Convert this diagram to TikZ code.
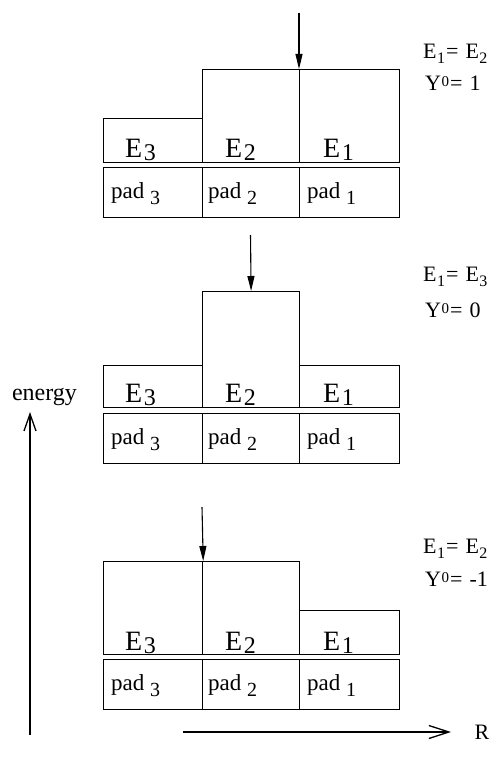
\documentclass[tikz,border=0pt]{standalone}
\usepackage{fontspec}
\setmainfont{Liberation Serif}
\usetikzlibrary{arrows.meta}
\newcommand\Esub[1]{E\kern1.5pt{\fontsize{24}{24}\selectfont\raisebox{-3pt}{#1}}}
\newcommand\padsub[1]{pad {\fontsize{20}{20}\selectfont\raisebox{-6pt}{#1}}}
\newcommand\rsub[1]{\kern0.5pt{\fontsize{16}{16}\selectfont\raisebox{-5pt}{#1}}}
\newcommand\rsup[1]{\kern0.5pt{\fontsize{15}{15}\selectfont\raisebox{4pt}{#1}}}
\newcommand\req{\kern1pt=\kern1.5pt}
\begin{document}
\begin{tikzpicture}[x=1pt,y=-1pt,
  box/.style={draw, line width=1.2pt, inner sep=0pt, anchor=north west},
  elab/.style={font=\fontsize{28}{28}\selectfont, inner sep=0pt, anchor=base west},
  plab/.style={font=\fontsize{23}{23}\selectfont, inner sep=0pt, anchor=base west},
  rlab/.style={font=\fontsize{22}{22}\selectfont, inner sep=0pt, anchor=base west},
  alab/.style={font=\fontsize{24}{24}\selectfont, inner sep=0pt, anchor=base},
  darr/.style={-{Triangle[length=15pt,width=7pt]}, line width=1.1pt},
  eaxis/.style={-{Straight Barb[length=17pt,width=12pt]}, line width=1.3pt},
  raxis/.style={-{Straight Barb[length=20pt,width=13pt]}, line width=1.3pt}]
\useasboundingbox (0,0) rectangle (497,767);

% ---------- top panel ----------
\node[box, minimum width=99pt, minimum height=44pt] (t3) at (103,118) {};
\node[box, minimum width=97pt, minimum height=93pt] (t2) at (202,69) {};
\node[box, minimum width=100pt, minimum height=93pt] (t1) at (299,69) {};
\node[box, minimum width=99pt, minimum height=50pt] (tp3) at (103,167) {};
\node[box, minimum width=97pt, minimum height=50pt] (tp2) at (202,167) {};
\node[box, minimum width=100pt, minimum height=50pt] (tp1) at (299,167) {};
\node[elab] (t3l) at ([shift={(22pt,6pt)}]t3.south west) {\Esub{3}};
\node[elab] (t2l) at ([shift={(23pt,6pt)}]t2.south west) {\Esub{2}};
\node[elab] (t1l) at ([shift={(24pt,6pt)}]t1.south west) {\Esub{1}};
\node[plab] (tp3l) at ([shift={(8pt,20pt)}]tp3.south west) {\padsub{3}};
\node[plab] (tp2l) at ([shift={(6pt,20pt)}]tp2.south west) {\padsub{2}};
\node[plab] (tp1l) at ([shift={(8pt,20pt)}]tp1.south west) {\padsub{1}};
\coordinate (ta) at (299,13);
\draw[darr] (ta) -- (t1.north west);
\node[rlab] (tr1) at (423,59) {E\rsub{1}\req\ E\rsub{2}};
\node[rlab] (tr2) at (425,91) {Y\rsup{0}\req\ 1};

% ---------- middle panel ----------
\node[box, minimum width=99pt, minimum height=42pt] (m3) at (103,365) {};
\node[box, minimum width=97pt, minimum height=116pt] (m2) at (202,291) {};
\node[box, minimum width=100pt, minimum height=42pt] (m1) at (299,365) {};
\node[box, minimum width=99pt, minimum height=50pt] (mp3) at (103,413) {};
\node[box, minimum width=97pt, minimum height=50pt] (mp2) at (202,413) {};
\node[box, minimum width=100pt, minimum height=50pt] (mp1) at (299,413) {};
\node[elab] (m3l) at ([shift={(22pt,6pt)}]m3.south west) {\Esub{3}};
\node[elab] (m2l) at ([shift={(23pt,6pt)}]m2.south west) {\Esub{2}};
\node[elab] (m1l) at ([shift={(24pt,6pt)}]m1.south west) {\Esub{1}};
\node[plab] (mp3l) at ([shift={(8pt,20pt)}]mp3.south west) {\padsub{3}};
\node[plab] (mp2l) at ([shift={(6pt,20pt)}]mp2.south west) {\padsub{2}};
\node[plab] (mp1l) at ([shift={(8pt,20pt)}]mp1.south west) {\padsub{1}};
\coordinate (ma) at (250.5,235);
\draw[darr] (ma) -- (m2.north);
\node[rlab] (mr1) at (423,281) {E\rsub{1}\req\ E\rsub{3}};
\node[rlab] (mr2) at (425,317) {Y\rsup{0}\req\ 0};

% ---------- bottom panel ----------
\node[box, minimum width=99pt, minimum height=93pt] (b3) at (103,561) {};
\node[box, minimum width=97pt, minimum height=93pt] (b2) at (202,561) {};
\node[box, minimum width=100pt, minimum height=44pt] (b1) at (299,610) {};
\node[box, minimum width=99pt, minimum height=50pt] (bp3) at (103,659) {};
\node[box, minimum width=97pt, minimum height=50pt] (bp2) at (202,659) {};
\node[box, minimum width=100pt, minimum height=50pt] (bp1) at (299,659) {};
\node[elab] (b3l) at ([shift={(22pt,5pt)}]b3.south west) {\Esub{3}};
\node[elab] (b2l) at ([shift={(23pt,5pt)}]b2.south west) {\Esub{2}};
\node[elab] (b1l) at ([shift={(24pt,5pt)}]b1.south west) {\Esub{1}};
\node[plab] (bp3l) at ([shift={(8pt,20pt)}]bp3.south west) {\padsub{3}};
\node[plab] (bp2l) at ([shift={(6pt,20pt)}]bp2.south west) {\padsub{2}};
\node[plab] (bp1l) at ([shift={(8pt,20pt)}]bp1.south west) {\padsub{1}};
\coordinate (ba) at (202,507);
\draw[darr] (ba) -- (b3.north east);
\node[rlab] (br1) at (423,553) {E\rsub{1}\req\ E\rsub{2}};
\node[rlab] (br2) at (425,586) {Y\rsup{0}\req\ -1};

% ---------- axes ----------
\node[alab] (en) at (44.5,400) {energy};
\coordinate (e0) at (30,735);
\coordinate (e1) at (30,412);
\draw[eaxis] (e0) -- (e1);
\coordinate (r0) at (183,732);
\coordinate (r1) at (451,732);
\draw[raxis] (r0) -- (r1);
\node[font=\fontsize{22}{22}\selectfont, inner sep=0pt, anchor=base] (R) at (482,739) {R};
\end{tikzpicture}
\end{document}
